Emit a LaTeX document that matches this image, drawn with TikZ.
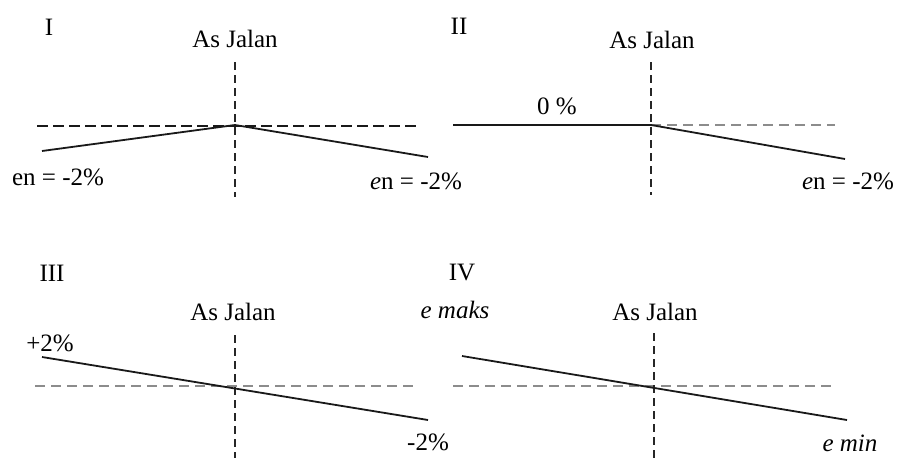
\documentclass[tikz,border=0pt]{standalone}
\usepackage{fontspec}
\setmainfont{Liberation Serif}
\begin{document}
\begin{tikzpicture}[x=1pt,y=-1pt,
  lbl/.style={inner sep=0pt,font=\fontsize{25}{28}\selectfont},
  axisline/.style={draw=black!85,line width=1.3pt,dash pattern=on 8pt off 5pt},
  refblack/.style={draw=black!90,line width=1.4pt,dash pattern=on 11pt off 5pt},
  refgray/.style={draw=black!45,line width=1.4pt,dash pattern=on 10pt off 6pt},
  slope/.style={draw=black!90,line width=1.8pt}]
\useasboundingbox[fill=white] (0,0) rectangle (897,458);
% ---------- Panel I
\node[lbl] (t1) at (49,27) {I};
\node[lbl] (j1) at (235,39) {As Jalan};
\coordinate (v1a) at (235,62); \coordinate (v1b) at (235,197);
\coordinate (h1a) at (37,126); \coordinate (h1b) at (417,126);
\coordinate (p1) at (235,125);
\coordinate (l1) at (42,151); \coordinate (r1) at (428,157);
\draw[axisline] (v1a) -- (v1b);
\draw[refblack] (h1a) -- (h1b);
\draw[slope] (l1) -- (p1) -- (r1);
\node[lbl] (e1l) at (58,177) {en = -2\%};
\node[lbl] (e1r) at (416,181) {\textit{e}n = -2\%};
% ---------- Panel II
\node[lbl] (t2) at (459,26) {II};
\node[lbl] (j2) at (652,40) {As Jalan};
\coordinate (v2a) at (651,62); \coordinate (v2b) at (651,195);
\coordinate (p2) at (651,125);
\coordinate (l2) at (453,125); \coordinate (h2b) at (835,125);
\coordinate (r2) at (845,159);
\draw[refgray] (p2) -- (h2b);
\draw[axisline] (v2a) -- (v2b);
\draw[slope] (l2) -- (p2) -- (r2);
\node[lbl] (z2) at (557,106) {0 \%};
\node[lbl] (e2r) at (848,181) {\textit{e}n = -2\%};
% ---------- Panel III
\node[lbl] (t3) at (52,273) {III};
\node[lbl] (j3) at (233,312) {As Jalan};
\coordinate (v3a) at (235,335); \coordinate (v3b) at (235,458);
\coordinate (h3a) at (35,386); \coordinate (h3b) at (417,386);
\coordinate (l3) at (42,357); \coordinate (r3) at (428,420);
\draw[refgray] (h3a) -- (h3b);
\draw[axisline] (v3a) -- (v3b);
\draw[slope] (l3) -- (r3);
\node[lbl] (p3) at (50,343) {+2\%};
\node[lbl] (m3) at (428,442) {-2\%};
% ---------- Panel IV
\node[lbl] (t4) at (462,273) {IV};
\node[lbl] (j4) at (655,312) {As Jalan};
\coordinate (v4a) at (654,333); \coordinate (v4b) at (654,458);
\coordinate (h4a) at (453,386); \coordinate (h4b) at (835,386);
\coordinate (l4) at (462,356); \coordinate (r4) at (847,420);
\draw[refgray] (h4a) -- (h4b);
\draw[axisline] (v4a) -- (v4b);
\draw[slope] (l4) -- (r4);
\node[lbl] (mx4) at (455,310) {\textit{e maks}};
\node[lbl] (mn4) at (850,443) {\textit{e min}};
\end{tikzpicture}
\end{document}
